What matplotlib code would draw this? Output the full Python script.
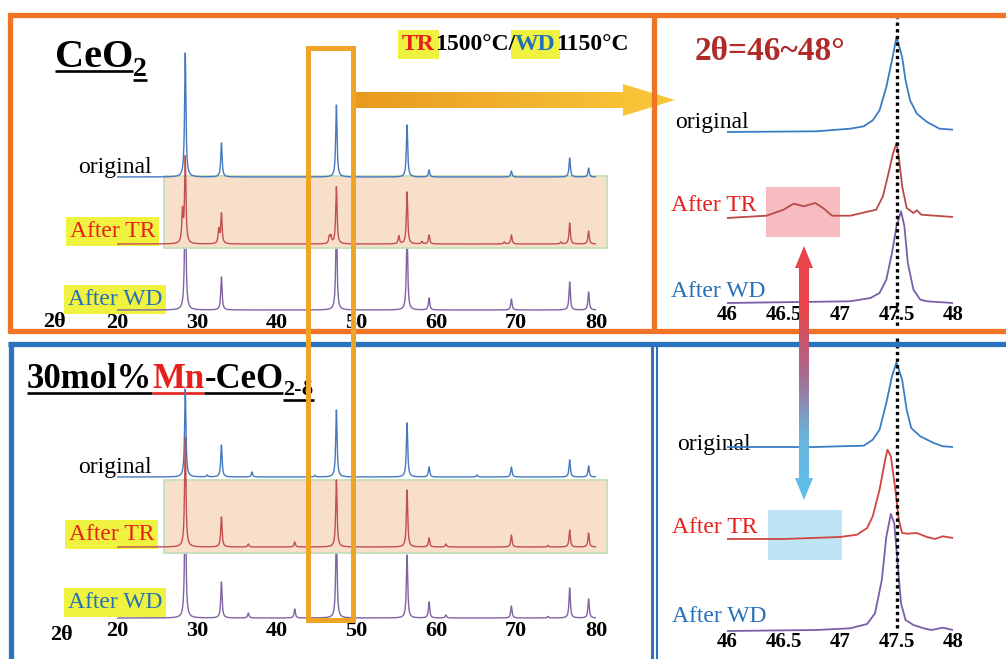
import numpy as np
import matplotlib
matplotlib.use("Agg")
import matplotlib.pyplot as plt
from matplotlib.patches import Rectangle, Polygon
from matplotlib.colors import LinearSegmentedColormap

plt.rcParams['font.family'] = ['Liberation Serif', 'DejaVu Serif']

# ---------------- data ----------------
# full patterns: peak positions (2theta) and heights (arbitrary units)
ceo2_orig_pos = [28.55, 33.08, 47.48, 56.33, 59.09, 69.40, 76.70, 79.07]
ceo2_orig_h   = [124, 34, 72, 52, 7, 6, 19, 9]
ceo2_tr_pos = [28.20, 28.55, 32.75, 33.08, 46.60, 46.80, 47.48, 55.30, 56.33, 58.20, 59.09,
               68.50, 69.40, 75.60, 76.70, 79.07]
ceo2_tr_h   = [31, 86, 14, 30, 7, 7, 57, 8, 52, 2.5, 9, 2, 9, 2, 21, 13]
ceo2_wd_pos = [28.55, 33.08, 47.48, 56.33, 59.09, 69.40, 76.70, 79.07]
ceo2_wd_h   = [130, 33, 90, 80, 12, 11, 28, 18]

mn_orig_pos = [28.55, 31.30, 33.08, 36.90, 44.80, 47.48, 56.33, 59.09, 65.10, 69.40, 76.70, 79.07]
mn_orig_h   = [88, 2, 32, 5, 1.5, 67, 54, 10, 2, 10, 17, 11]
mn_tr_pos = [28.55, 33.08, 36.45, 42.26, 47.48, 56.33, 59.09, 61.20, 69.40, 74.00, 76.70, 79.07]
mn_tr_h   = [110, 30, 3, 5, 67, 57, 9, 3, 12, 1.5, 17, 14]
mn_wd_pos = [28.55, 33.08, 36.45, 42.26, 47.48, 56.33, 59.09, 61.20, 69.40, 74.00, 76.70, 79.07]
mn_wd_h   = [130, 36, 5, 9, 90, 63, 16, 3, 12, 1.5, 30, 19]

# zoomed 46-48 deg region, CeO2
z1_orig_x = [46.00, 46.79, 47.09, 47.21, 47.29, 47.35, 47.41, 47.46, 47.50, 47.55, 47.58, 47.62,
             47.68, 47.77, 47.88, 48.00]
z1_orig_y = [0, 0.7, 3.3, 5.7, 11.7, 21.7, 45, 71.7, 95, 75, 51.7, 31.7, 18.3, 10, 3.3, 2.3]
z1_tr_x = [46.00, 46.35, 46.50, 46.59, 46.68, 46.78, 46.85, 46.93, 47.09, 47.32, 47.38, 47.43,
           47.47, 47.50, 47.52, 47.55, 47.59, 47.65, 47.68, 47.72, 48.00]
z1_tr_y = [-1, 1.3, 7.3, 13.3, 10.7, 14, 9, 1.3, 1.3, 7.3, 20.7, 44, 64, 74, 60.7, 30.7, 9, 4,
           6.7, 2.3, 0]
z1_wd_x = [46.00, 47.09, 47.27, 47.35, 47.41, 47.46, 47.50, 47.54, 47.57, 47.60, 47.65, 47.71,
           47.77, 48.00]
z1_wd_y = [0, 1.7, 5, 10, 23.3, 50, 76.7, 91.7, 76.7, 40, 13.3, 3.3, 1.7, 0]

# zoomed 46-48 deg region, 30mol% Mn-CeO2
z2_orig_x = [46.00, 46.79, 47.00, 47.21, 47.29, 47.35, 47.41, 47.46, 47.50, 47.55, 47.59, 47.63,
             47.71, 47.83, 47.91, 48.00]
z2_orig_y = [0, 0, 0.7, 1.3, 7.3, 17.3, 44, 70.7, 84.7, 67.3, 37.3, 19, 10.7, 4, 0.7, 0]
z2_tr_x = [46.00, 46.50, 47.00, 47.15, 47.24, 47.29, 47.35, 47.40, 47.42, 47.45, 47.49, 47.52,
           47.55, 47.60, 47.68, 47.77, 47.84, 47.91, 48.00]
z2_tr_y = [0, 0, 2, 4.3, 11, 22.7, 49.3, 79.3, 89.3, 82.7, 49.3, 19.3, 6, 5.3, 6, 2, 0, 2.7, 1]
z2_wd_x = [46.00, 46.79, 47.09, 47.24, 47.31, 47.37, 47.41, 47.45, 47.48, 47.51, 47.54, 47.58,
           47.65, 47.74, 47.81, 47.91, 48.00]
z2_wd_y = [-1, 0, 1.7, 6, 16.7, 50, 93.3, 116, 106.7, 66.7, 26.7, 10, 5, 1.7, 0, 2.3, 0]

full_ticks = [20, 30, 40, 50, 60, 70, 80]
zoom_ticks = [46, 46.5, 47, 47.5, 48]
zoom_ticklabels = ['46', '46.5', '47', '47.5', '48']

# ---------------- colours ----------------
C_ORIG = '#4678bd'
C_TR = '#c0504d'
C_WD = '#8064a2'
RED = '#e8201c'
BLUE_TXT = '#2670b8'
YELLOW = '#eff23f'
ORANGE = '#f07326'
FRAME_BLUE = '#2b72c0'

W, H = 1006, 659
fig = plt.figure(figsize=(W / 100, H / 100), dpi=100)

bg = fig.add_axes([0, 0, 1, 1], zorder=0)
bg.set_xlim(0, W); bg.set_ylim(H, 0); bg.axis('off')
over = fig.add_axes([0, 0, 1, 1], zorder=5)
over.set_xlim(0, W); over.set_ylim(H, 0); over.axis('off')


def px_axes(x0, y0, x1, y1):
    ax = fig.add_axes([x0 / W, 1 - y1 / H, (x1 - x0) / W, (y1 - y0) / H], zorder=2)
    ax.patch.set_visible(False)
    for s in ax.spines.values():
        s.set_visible(False)
    ax.set_yticks([])
    ax.tick_params(axis='x', length=0, pad=-1)
    return ax


def pattern(x, pos, h, hw=0.1):
    y = np.zeros_like(x)
    for p, a in zip(pos, h):
        y += a / (1 + ((x - p) / hw) ** 2)
    return y


tt = np.linspace(20, 80, 6001)


def full_panel(box, offsets, series, tan_box):
    ax = px_axes(*box)
    for (pos, h, col, z), off in zip(series, offsets):
        ax.plot(tt, pattern(tt, pos, h) + off, color=col, lw=1.0, zorder=z)
    ax.add_patch(Rectangle(tan_box[:2], tan_box[2], tan_box[3], transform=bg.transData,
                           facecolor='#f8dfca', edgecolor='#c5deb9', lw=1.3, zorder=2,
                           clip_on=False))
    ax.set_xlim(20, 80)
    ax.set_ylim(0, box[3] - box[1])
    ax.set_xticks(full_ticks)
    ax.set_xticklabels([str(t) for t in full_ticks], fontsize=16, fontweight='bold')
    return ax


full_panel((117, 40, 596, 314), [137, 70, 4],
           [(ceo2_orig_pos, ceo2_orig_h, C_ORIG, 3), (ceo2_tr_pos, ceo2_tr_h, C_TR, 3),
            (ceo2_wd_pos, ceo2_wd_h, C_WD, 1)],
           (164, 176, 443, 72))
full_panel((117, 345, 596, 622), [145, 75, 4],
           [(mn_orig_pos, mn_orig_h, C_ORIG, 3), (mn_tr_pos, mn_tr_h, C_TR, 3),
            (mn_wd_pos, mn_wd_h, C_WD, 1)],
           (164, 480, 443, 73))


def zoom_panel(box, offsets, curves, hl_box, hl_color, dot_span):
    ax = px_axes(*box)
    hgt = box[3] - box[1]
    ax.add_patch(Rectangle(hl_box[:2], hl_box[2], hl_box[3], transform=bg.transData,
                           facecolor=hl_color, edgecolor='none', zorder=0, clip_on=False))
    for (xs, ys, col), off in zip(curves, offsets):
        ax.plot(xs, np.array(ys) + off, color=col, lw=1.3, zorder=2,
                solid_joinstyle='round')
    ax.axvline(47.5, ymin=(box[3] - dot_span[1]) / hgt, ymax=(box[3] - dot_span[0]) / hgt,
               color='black', ls=(0, (1, 1)), lw=2.4, clip_on=False, zorder=3)
    ax.set_xlim(46, 48)
    ax.set_ylim(0, hgt)
    ax.set_xticks(zoom_ticks)
    ax.set_xticklabels(zoom_ticklabels, fontsize=15, fontweight='bold')
    return ax


zoom_panel((727, 20, 953, 306), [174, 89, 3],
           [(z1_orig_x, z1_orig_y, '#3b7dc4'), (z1_tr_x, z1_tr_y, '#b94a48'),
            (z1_wd_x, z1_wd_y, '#7b5ea7')],
           (766, 187, 74, 50), '#f6bcbf', (18, 332))
zoom_panel((727, 340, 953, 633), [186, 94, 3],
           [(z2_orig_x, z2_orig_y, '#3b7dc4'), (z2_tr_x, z2_tr_y, '#d0453f'),
            (z2_wd_x, z2_wd_y, '#7b5ea7')],
           (768, 510, 74, 50), '#bfe4f6', (338, 628))

# ---------------- texts ----------------
renderer = fig.canvas.get_renderer()


def run_text(x, y, pieces, ul=None):
    for s, col, fs, dy, box in pieces:
        kw = {}
        if box:
            # boxed pieces sit under their neighbours so the yellow doesn't hide them
            kw['bbox'] = dict(boxstyle='square,pad=0.16', fc=YELLOW, ec='none')
            kw['zorder'] = 2
        t = bg.text(x, y + dy, s, color=col, fontsize=fs, fontweight='bold',
                    ha='left', va='baseline', **kw)
        w = t.get_window_extent(renderer).width
        if ul is not None:
            bg.plot([x, x + w], [y + dy + ul, y + dy + ul], color=col, lw=1.9,
                    solid_capstyle='butt')
        x += w


run_text(55, 67, [('CeO', 'black', 29, 0, False), ('2', 'black', 20, 9, False)], ul=3.5)
run_text(27, 388, [('30mol%', 'black', 25, 0, False), ('Mn', RED, 25, 0, False),
                   ('-CeO', 'black', 25, 0, False), ('2-δ', 'black', 16, 7, False)], ul=4.5)
run_text(402, 50, [('TR', RED, 17, 0, True), ('1500°C/', 'black', 17, 0, False),
                   ('WD', BLUE_TXT, 17, 0, True), ('1150°C', 'black', 17, 0, False)])
bg.text(695, 60, '2θ=46~48°', color='#b02a2a', fontsize=24, fontweight='bold',
        ha='left', va='baseline')


def label(x, y, s, col, box=False):
    kw = {}
    if box:
        kw['bbox'] = dict(boxstyle='square,pad=0.16', fc=YELLOW, ec='none')
    bg.text(x, y, s, color=col, fontsize=17, ha='left', va='baseline', **kw)


label(78, 173, 'original', 'black')
label(70, 237, 'After TR', RED, True)
label(68, 305, 'After WD', BLUE_TXT, True)
label(78, 473, 'original', 'black')
label(69, 540, 'After TR', RED, True)
label(68, 608, 'After WD', BLUE_TXT, True)
label(675, 128, 'original', 'black')
label(671, 211, 'After TR', RED)
label(671, 297, 'After WD', BLUE_TXT)
label(677, 450, 'original', 'black')
label(672, 533, 'After TR', RED)
label(672, 622, 'After WD', BLUE_TXT)
bg.text(43, 327, '2θ', fontsize=16, fontweight='bold', va='baseline')
bg.text(50, 640, '2θ', fontsize=16, fontweight='bold', va='baseline')


# ---------------- arrows, frames ----------------
def gradient_poly(ax, verts, colors, vertical, z):
    poly = Polygon(verts, closed=True, facecolor='none', edgecolor='none', zorder=z)
    ax.add_patch(poly)
    xs = [v[0] for v in verts]
    ys = [v[1] for v in verts]
    cmap = LinearSegmentedColormap.from_list('grad', colors)
    g = np.linspace(0, 1, 256)
    img = g[:, None] if vertical else g[None, :]
    im = ax.imshow(img, cmap=cmap, extent=(min(xs), max(xs), max(ys), min(ys)),
                   aspect='auto', origin='upper', zorder=z, interpolation='bilinear')
    im.set_clip_path(poly)


gradient_poly(over, [(355, 92), (623, 92), (623, 84), (675, 100), (623, 116), (623, 108),
                     (355, 108)], ['#e99a1f', '#f9c93a'], False, 1)

# orange frame (CeO2)
for xs, ys in [([8, W], [15, 15]), ([8, W], [331, 331]), ([10.5, 10.5], [13, 333]),
               ([654, 654], [13, 333])]:
    over.plot(xs, ys, color=ORANGE, lw=3.8, zorder=2, solid_capstyle='butt')
# blue frame (Mn-CeO2)
for xs, ys, lw in [([8, W], [344, 344], 3.8), ([11, 11], [342, H], 3.8),
                   ([652.5, 652.5], [346, H], 2.2), ([657.5, 657.5], [346, H], 1.5)]:
    over.plot(xs, ys, color=FRAME_BLUE, lw=lw, zorder=2, solid_capstyle='butt')

gradient_poly(over, [(804, 246), (813, 268), (809, 268), (809, 478), (813, 478), (804, 500),
                     (795, 478), (799, 478), (799, 268), (795, 268)],
              ['#e8464b', '#e8464b', '#a86a8c', '#6ab4dc', '#5cc0ea'], True, 3)

over.add_patch(Rectangle((308.5, 48), 45, 572, facecolor='none', edgecolor='#f0a426',
                         lw=3.6, zorder=4))

over.set_xlim(0, W); over.set_ylim(H, 0)
fig.savefig('out.png', dpi=100)
